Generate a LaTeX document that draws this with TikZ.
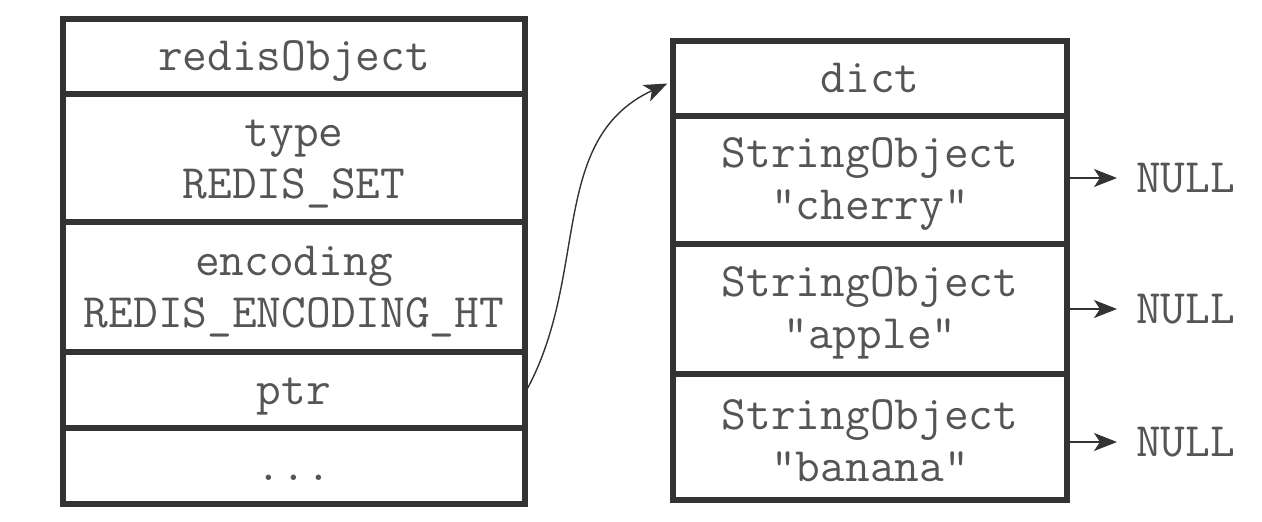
\documentclass[tikz,border=0pt]{standalone}
\usepackage{fontspec}
\usetikzlibrary{arrows.meta}
\definecolor{linec}{HTML}{333333}
\definecolor{textc}{HTML}{555555}
\newcommand{\toppad}{\rule{0pt}{38pt}}
\begin{document}
\begin{tikzpicture}[x=1pt,y=-1pt,
  txt/.style={text=textc, font=\ttfamily\fontsize{48}{52}\selectfont},
  cell/.style={txt, draw=linec, line width=5.5pt, inner sep=0pt, align=center},
  oneline/.style={text height=34pt, text depth=6pt},
  leftcell/.style={cell, minimum width=462pt},
  rightcell/.style={cell, minimum width=394pt},
  nullnode/.style={txt, inner sep=0pt, inner xsep=20pt, anchor=west, text height=30pt, text depth=0pt},
  ptrarrow/.style={draw=linec, line width=1.4pt, -{Stealth[length=23pt,width=18pt,inset=6pt]}}
]
\useasboundingbox (0,0) rectangle (1262,522);

% redisObject structure
\node[leftcell, oneline, minimum height=75pt]  (robj) at (294,56.5) {redisObject};
\node[leftcell, minimum height=128pt] (type) at (294,158) {\toppad type\\REDIS\_SET};
\node[leftcell, minimum height=130pt] (enc)  at (294,287) {\toppad encoding\\REDIS\_ENCODING\_HT};
\node[leftcell, oneline, minimum height=76pt]  (ptr)  at (294,390) {ptr};
\node[leftcell, oneline, minimum height=76pt]  (more) at (294,466) {...};

% dict holding the set members
\node[rightcell, oneline, minimum height=75pt]  (dict) at (870,78.5) {dict};
\node[rightcell, minimum height=128pt] (s1) at (870,180) {\toppad StringObject\\"cherry"};
\node[rightcell, minimum height=130pt] (s2) at (870,309) {\toppad StringObject\\"apple"};
\node[rightcell, minimum height=126pt] (s3) at (870,437) {\toppad StringObject\\"banana"};

% NULL values
\node[nullnode] (n1) at (1117,178) {};
\node[nullnode] (n2) at (1117,309) {};
\node[nullnode] (n3) at (1117,442) {};
\node[txt, anchor=base west, inner sep=0pt] (t1) at (1136,192) {NULL};
\node[txt, anchor=base west, inner sep=0pt] (t2) at (1136,323) {NULL};
\node[txt, anchor=base west, inner sep=0pt] (t3) at (1136,456) {NULL};

% pointers
\draw[ptrarrow] ([yshift=2pt]ptr.east) to[out=62, in=205] ([xshift=-3pt,yshift=-5pt]dict.west);
\draw[ptrarrow] (s1.east |- n1.west) -- (n1.west);
\draw[ptrarrow] (s2.east |- n2.west) -- (n2.west);
\draw[ptrarrow] (s3.east |- n3.west) -- (n3.west);
\end{tikzpicture}
\end{document}
